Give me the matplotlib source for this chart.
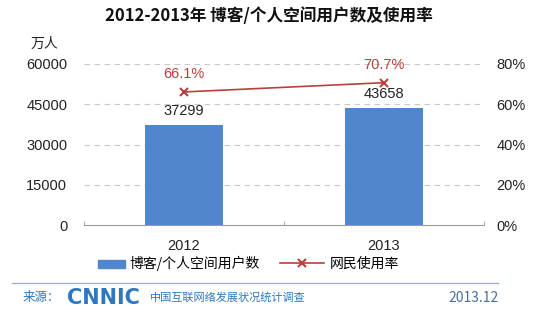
import matplotlib
matplotlib.use("Agg")
import matplotlib.pyplot as plt
from matplotlib.lines import Line2D
from matplotlib.patches import Patch

plt.rcParams['font.family'] = ['Liberation Sans', 'Noto Sans CJK SC', 'DejaVu Sans']
CJK = ['Noto Sans CJK SC', 'DejaVu Sans']

# data
years = ['2012', '2013']
users = [37299, 43658]          # 万人
rate = [66.1, 70.7]             # %
left_ticks = [0, 15000, 30000, 45000, 60000]
right_ticks = [0, 20, 40, 60, 80]
series_names = ['博客/个人空间用户数', '网民使用率']

bar_color = '#4F86CC'
line_color = '#B8403D'
grid_color = '#C8C8C8'
foot_color = '#2E78C0'
txt_color = '#222222'

fig = plt.figure(figsize=(5.6, 3.23), dpi=100)
ax = fig.add_axes([0.15, 0.303, 0.714, 0.499])
x = range(len(years))
ax.bar(x, users, width=0.39, color=bar_color, zorder=3)
ax.set_xlim(-0.5, 1.5)
ax.set_ylim(0, 60000)
ax.set_yticks(left_ticks)
ax.set_xticks(list(x))
ax.set_xticklabels(years)
ax.set_xticks([-0.5, 0.5, 1.5], minor=True)
for t in left_ticks[1:]:
    ax.axhline(t, color=grid_color, lw=0.8, ls=(0, (5, 4)), zorder=1)
for s in ['top', 'right', 'left']:
    ax.spines[s].set_visible(False)
ax.spines['bottom'].set_color('#9A9A9A')
ax.tick_params(axis='both', which='major', length=0, labelsize=10.5, colors=txt_color)
ax.tick_params(axis='x', which='minor', direction='in', length=3, color='#9A9A9A')
ax.tick_params(axis='y', pad=12)
ax.tick_params(axis='x', pad=10)
for i, v in enumerate(users):
    ax.text(i, v + 5200, str(v), ha='center', va='center', fontsize=10.5, color=txt_color)

ax2 = ax.twinx()
ax2.plot(list(x), rate, color=line_color, lw=1.2, marker='x', ms=6, mew=1.5, zorder=4)
ax2.set_ylim(0, 80)
ax2.set_yticks(right_ticks)
ax2.set_yticklabels([f'{t}%' for t in right_ticks])
for s in ['top', 'right', 'left', 'bottom']:
    ax2.spines[s].set_visible(False)
ax2.tick_params(axis='y', length=0, labelsize=10.5, colors=txt_color, pad=9)
for i, v in enumerate(rate):
    ax2.text(i, v + 9, f'{v}%', ha='center', va='center', fontsize=10.5, color=line_color)

fig.text(0.48, 0.952, '2012-2013年 博客/个人空间用户数及使用率', ha='center', va='center',
         fontsize=12, fontweight='bold', color='#111111', family=CJK)
fig.text(0.055, 0.865, '万人', ha='left', va='center', fontsize=10, color=txt_color, family=CJK)

# legend: two entries with different handle lengths
leg_kw = dict(loc='center left', frameon=False, prop={'family': CJK, 'size': 10},
              borderpad=0, borderaxespad=0, handleheight=0.5, handletextpad=0.35)
fig.legend([Patch(color=bar_color)], [series_names[0]], bbox_to_anchor=(0.175, 0.183),
           handlelength=1.95, **leg_kw)
fig.legend([Line2D([0], [0], color=line_color, lw=1.2, marker='x', ms=6, mew=1.5)],
           [series_names[1]], bbox_to_anchor=(0.5, 0.183), handlelength=3.2, **leg_kw)

fig.add_artist(Line2D([0.022, 0.89], [0.125, 0.125], color='#9DB5CF', lw=1))
fig.text(0.04, 0.078, '来源：', ha='left', va='center', fontsize=9, color=foot_color, family=CJK)
fig.text(0.119, 0.078, 'CNNIC', ha='left', va='center', fontsize=15, fontweight='bold',
         color=foot_color, family='DejaVu Sans')
fig.text(0.268, 0.078, '中国互联网络发展状况统计调查', ha='left', va='center', fontsize=8,
         color=foot_color, family=CJK)
fig.text(0.89, 0.078, '2013.12', ha='right', va='center', fontsize=10, color='#4A6F9A', family=CJK)

fig.savefig('out.png', dpi=100)
